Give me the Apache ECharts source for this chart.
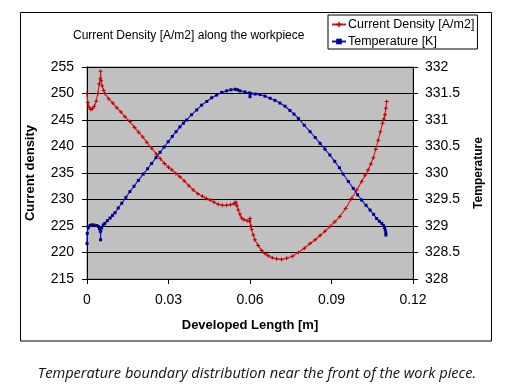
<!DOCTYPE html>
<html><head><meta charset="utf-8">
<script src="https://cdn.jsdelivr.net/npm/echarts@6/dist/echarts.min.js"></script>
<style>html,body{margin:0;padding:0;background:#fff}#c{width:514px;height:390px}</style>
</head><body><div id="c"></div>
<script>
var titleText = 'Current Density [A/m2] along the workpiece';
var captionText = 'Temperature boundary distribution near the front of the work piece.';
var seriesNames = ['Current Density [A/m2]', 'Temperature [K]'];
var xTicks = [0, 0.03, 0.06, 0.09, 0.12];
var leftTicks = [215, 220, 225, 230, 235, 240, 245, 250, 255];
var rightTicks = [328, 328.5, 329, 329.5, 330, 330.5, 331, 331.5, 332];

var cdX = [0,0.0003,0.0008,0.0014,0.0020,0.0027,0.0034,0.0040,0.0045,0.0049,0.0050,0.0052,0.0056,0.0061,0.0066,0.0080,0.0095,0.0110,0.0125,0.0140,0.0158,0.0175,0.0190,0.0205,0.0220,0.0238,0.0255,0.0270,0.0285,0.0300,0.0312,0.0327,0.0342,0.0358,0.0375,0.0391,0.0408,0.0425,0.0440,0.0453,0.0468,0.0483,0.0498,0.0514,0.0528,0.0540,0.0545,0.0548,0.0552,0.0557,0.0563,0.0569,0.0578,0.0590,0.0598,0.0600,0.0603,0.0606,0.0612,0.0618,0.0630,0.0643,0.0655,0.0667,0.0682,0.0698,0.0716,0.0735,0.0756,0.0778,0.0800,0.0821,0.0840,0.0858,0.0876,0.0894,0.0912,0.0931,0.0952,0.0974,0.0993,0.1011,0.1024,0.1035,0.1045,0.1054,0.1063,0.1072,0.1080,0.1088,0.1093,0.1097,0.1100,0.1103];
var cdY = [250.0,248.3,247.4,247.0,247.1,247.6,248.6,250.0,251.8,252.8,254.2,252.4,251.4,250.6,250.0,249.0,248.2,247.3,246.5,245.6,244.7,243.6,242.7,241.8,240.8,239.7,238.6,237.7,236.8,236.1,235.6,234.9,234.3,233.5,232.6,231.8,231.1,230.6,230.2,229.9,229.5,229.1,228.9,228.9,229.0,229.2,229.3,229.5,228.8,228.0,227.2,226.5,226.2,226.0,225.9,226.4,225.0,224.4,223.3,222.4,221.3,220.4,219.8,219.4,219.0,218.8,218.7,218.9,219.3,220.0,220.8,221.7,222.4,223.2,224.0,224.9,225.8,226.8,228.3,230.2,231.8,233.4,234.6,235.6,236.7,237.9,239.5,241.2,242.8,244.4,245.2,246.0,247.2,248.5];

var tX = [0,0.0001,0.0005,0.0011,0.0017,0.0025,0.0036,0.0042,0.0046,0.0049,0.0050,0.0051,0.0054,0.0060,0.0066,0.0075,0.0085,0.0094,0.0103,0.0115,0.0128,0.0143,0.0158,0.0173,0.0189,0.0207,0.0223,0.0238,0.0254,0.0269,0.0284,0.0299,0.0314,0.0328,0.0342,0.0355,0.0367,0.0385,0.0404,0.0422,0.0441,0.0459,0.0477,0.0496,0.0514,0.0530,0.0545,0.0554,0.0563,0.0581,0.0597,0.0600,0.0603,0.0619,0.0637,0.0655,0.0674,0.0692,0.0710,0.0729,0.0747,0.0762,0.0778,0.0800,0.0821,0.0840,0.0858,0.0876,0.0894,0.0912,0.0929,0.0943,0.0962,0.0980,0.0996,0.1011,0.1027,0.1042,0.1055,0.1066,0.1076,0.1085,0.1091,0.1095,0.1098,0.1100,0.1100];
var tY = [328.67,328.86,328.97,329.01,329.02,329.02,329.01,328.99,328.95,328.90,328.74,328.92,328.97,329.02,329.05,329.10,329.15,329.20,329.25,329.34,329.43,329.54,329.65,329.75,329.86,329.98,330.08,330.18,330.29,330.39,330.49,330.59,330.69,330.78,330.87,330.94,331.00,331.10,331.19,331.28,331.35,331.42,331.47,331.52,331.55,331.57,331.58,331.57,331.55,331.53,331.51,331.44,331.50,331.49,331.48,331.45,331.41,331.37,331.32,331.26,331.18,331.11,331.03,330.90,330.78,330.67,330.56,330.45,330.34,330.22,330.10,329.98,329.84,329.71,329.59,329.49,329.39,329.30,329.22,329.14,329.09,329.05,329.01,328.97,328.92,328.87,328.83];

function pairs(xs, ys){ return xs.map(function(x,i){ return [x, ys[i]]; }); }
var FONT = '"Liberation Sans", Arial, sans-serif';
var plus = 'path://M1.5,0H2.5V1.5H4V2.5H2.5V4H1.5V2.5H0V1.5H1.5Z';

var chart = echarts.init(document.getElementById('c'), null, {renderer:'canvas'});
chart.setOption({
  animation: false,
  textStyle: {fontFamily: FONT},
  title: {text: titleText, left: 68, top: 25, textStyle: {fontSize: 12, fontWeight: 'normal', color: '#000', fontFamily: FONT}},
  legend: {
    orient: 'vertical', left: 328, top: 15, borderColor: '#000', borderWidth: 1, borderRadius: 0,
    padding: [3, 3, 1, 3], itemGap: 4, itemWidth: 14, itemHeight: 7,
    textStyle: {fontSize: 12.5, color: '#000', fontFamily: FONT, padding: [0,0,0,-3]},
    data: seriesNames
  },
  grid: {left: 87, right: 101, top: 67, bottom: 111, show: true, backgroundColor: '#C0C0C0', borderColor: '#808080', borderWidth: 1},
  xAxis: {
    type: 'value', min: xTicks[0], max: xTicks[xTicks.length-1], interval: 0.03,
    name: 'Developed Length [m]', nameLocation: 'middle', nameGap: 40,
    nameTextStyle: {fontSize: 13, fontWeight: 'bold', color: '#000', fontFamily: FONT},
    axisLine: {lineStyle: {color: '#000'}}, axisTick: {show: true, length: 5, lineStyle: {color: '#000'}},
    axisLabel: {fontSize: 14, color: '#000', margin: 14, fontFamily: FONT},
    splitLine: {show: false}
  },
  yAxis: [{
    type: 'value', min: leftTicks[0], max: leftTicks[leftTicks.length-1], interval: 5,
    name: 'Current density', nameLocation: 'middle', nameGap: 50, nameRotate: 90,
    nameTextStyle: {fontSize: 13, fontWeight: 'bold', color: '#000', fontFamily: FONT},
    axisLine: {show: true, lineStyle: {color: '#000'}}, axisTick: {show: true, length: 5, lineStyle: {color: '#000'}},
    axisLabel: {fontSize: 14, color: '#000', margin: 13, fontFamily: FONT},
    splitLine: {show: true, lineStyle: {color: '#000', width: 1}}
  }, {
    type: 'value', position: 'right', min: rightTicks[0], max: rightTicks[rightTicks.length-1], interval: 0.5,
    name: 'Temperature', nameLocation: 'middle', nameGap: 60, nameRotate: 90,
    nameTextStyle: {fontSize: 12, fontWeight: 'bold', color: '#000', fontFamily: FONT},
    axisLine: {show: true, lineStyle: {color: '#000'}}, axisTick: {show: true, length: 5, lineStyle: {color: '#000'}},
    axisLabel: {fontSize: 14, color: '#000', margin: 12, fontFamily: FONT},
    splitLine: {show: false}
  }],
  series: [{
    name: seriesNames[0], type: 'line', yAxisIndex: 0, data: pairs(cdX, cdY),
    symbol: plus, symbolSize: 4, showSymbol: true,
    lineStyle: {color: '#E01010', width: 1.1}, itemStyle: {color: '#C00000'}
  }, {
    name: seriesNames[1], type: 'line', yAxisIndex: 1, data: pairs(tX, tY),
    symbol: 'rect', symbolSize: 3, showSymbol: true,
    lineStyle: {color: '#1010D0', width: 1.1}, itemStyle: {color: '#000090'}
  }],
  graphic: [{
    type: 'rect', shape: {x: 20.5, y: 12.5, width: 471, height: 328.5},
    style: {fill: 'none', stroke: '#000', lineWidth: 1}, silent: true, z: -1
  }, {
    type: 'text', left: 'center', top: 366,
    style: {text: captionText, font: 'italic 14.6px "Open Sans", "Noto Sans", sans-serif', fill: '#111'}
  }]
});
</script></body></html>
